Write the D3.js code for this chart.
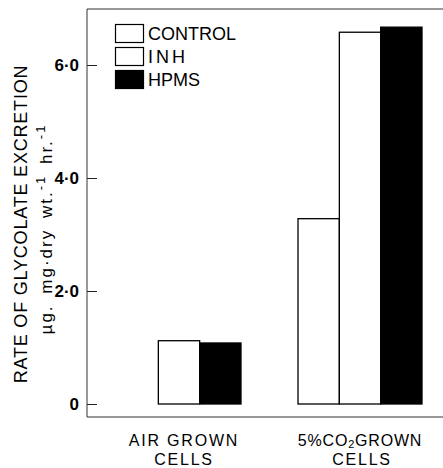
<!DOCTYPE html>
<html>
<head>
<meta charset="utf-8">
<script src="https://cdn.jsdelivr.net/npm/d3@7"></script>
<style>
  html, body { margin: 0; padding: 0; background: #fff; }
  svg { display: block; font-family: "Liberation Sans", Arial, sans-serif; }
</style>
</head>
<body>
<div id="chart"></div>
<script>
// ---------- Data ----------
const groups = ["AIR GROWN CELLS", "5%CO2 GROWN CELLS"];
const series = ["CONTROL", "INH", "HPMS"];
const controlVals = [0, 3.28];
const inhVals     = [1.12, 6.58];
const hpmsVals    = [1.08, 6.67];
const yTicks      = [0, 2, 4, 6];
const yTickLabels = ["0", "2·0", "4·0", "6·0"];

const fills = { CONTROL: "#fff", INH: "#fff", HPMS: "#000" };

const rows = groups.map((g, i) => ({
  group: g,
  values: [
    { key: "CONTROL", v: controlVals[i] },
    { key: "INH", v: inhVals[i] },
    { key: "HPMS", v: hpmsVals[i] }
  ]
}));

// ---------- Layout ----------
const W = 443, H = 468;
const frameL = 87, frameT = 9, frameB = 417;

const svg = d3.select("#chart").append("svg")
  .attr("width", W).attr("height", H);

const y = d3.scaleLinear().domain([0, 6]).range([404, 65]);

const x0 = d3.scaleBand()
  .domain(groups)
  .range([117, 422])
  .paddingInner(0.315)
  .paddingOuter(0);

const x1 = d3.scaleBand()
  .domain(series)
  .range([0, x0.bandwidth()])
  .padding(0);

// ---------- Frame ----------
svg.append("line")
  .attr("x1", frameL).attr("x2", W)
  .attr("y1", frameT).attr("y2", frameT)
  .attr("stroke", "#333").attr("stroke-width", 1);
svg.append("line")
  .attr("x1", frameL).attr("x2", W)
  .attr("y1", frameB).attr("y2", frameB)
  .attr("stroke", "#333").attr("stroke-width", 1);

// ---------- Y axis (ticks inward) ----------
const yAxis = svg.append("g")
  .attr("transform", `translate(${frameL},0)`)
  .call(d3.axisLeft(y)
    .tickValues(yTicks)
    .tickFormat((d, i) => yTickLabels[i])
    .tickSizeInner(-10)
    .tickSizeOuter(0)
    .tickPadding(8));
yAxis.select(".domain").remove();
yAxis.append("line")
  .attr("x1", 0).attr("x2", 0)
  .attr("y1", frameT).attr("y2", frameB)
  .attr("stroke", "#333");
yAxis.selectAll(".tick line").attr("stroke", "#222").attr("stroke-width", 1);
yAxis.selectAll(".tick text")
  .attr("fill", "#000")
  .style("font-size", "17px")
  .style("font-weight", "bold")
  .style("font-family", "'Liberation Sans', Arial, sans-serif");

// ---------- Bars ----------
const gBars = svg.append("g");
gBars.selectAll("g.grp")
  .data(rows)
  .join("g")
  .attr("class", "grp")
  .attr("transform", d => `translate(${x0(d.group)},0)`)
  .selectAll("rect")
  .data(d => d.values)
  .join("rect")
  .attr("x", d => x1(d.key))
  .attr("y", d => y(d.v))
  .attr("width", x1.bandwidth())
  .attr("height", d => y(0) - y(d.v))
  .attr("fill", d => fills[d.key])
  .attr("stroke", "#000")
  .attr("stroke-width", 1.3);

// ---------- Legend ----------
const legend = svg.append("g").attr("transform", "translate(115,24)");
series.forEach((s, i) => {
  const row = legend.append("g").attr("transform", `translate(0,${i * 23})`);
  row.append("rect")
    .attr("x", 0.5).attr("y", 0.5)
    .attr("width", 28).attr("height", 18)
    .attr("fill", fills[s])
    .attr("stroke", "#000")
    .attr("stroke-width", 1.2);
  row.append("text")
    .attr("x", 33).attr("y", 16)
    .style("font-size", "18px")
    .style("letter-spacing", s === "INH" ? "3px" : "0px")
    .text(s);
});

// ---------- X labels ----------
const xl = svg.append("g");
const cx0 = x0(groups[0]) + x0.bandwidth() / 2;
const cx1 = x0(groups[1]) + x0.bandwidth() / 2;
const xFont = "16px";

xl.append("text")
  .attr("x", cx0 + 5).attr("y", 446)
  .attr("text-anchor", "middle")
  .style("font-size", xFont).style("letter-spacing", "1.8px")
  .text("AIR GROWN");
xl.append("text")
  .attr("x", cx0 + 5).attr("y", 465)
  .attr("text-anchor", "middle")
  .style("font-size", xFont).style("letter-spacing", "1.8px")
  .text("CELLS");

const t2 = xl.append("text")
  .attr("x", cx1).attr("y", 446)
  .attr("text-anchor", "middle")
  .style("font-size", xFont).style("letter-spacing", "0.8px");
t2.append("tspan").text("5%CO");
t2.append("tspan").attr("dy", 2).style("font-size", "11px").text("2");
t2.append("tspan").attr("dy", -2).text("GROWN");
xl.append("text")
  .attr("x", cx1 + 2).attr("y", 465)
  .attr("text-anchor", "middle")
  .style("font-size", xFont).style("letter-spacing", "1.8px")
  .text("CELLS");

// ---------- Y label ----------
const yl = svg.append("g").attr("transform", "translate(0,224) rotate(-90)");
yl.append("text")
  .attr("x", 0).attr("y", 27)
  .attr("text-anchor", "middle")
  .style("font-size", "18px").style("letter-spacing", "0.8px")
  .text("RATE OF GLYCOLATE EXCRETION");
const sub = yl.append("g").attr("transform", "translate(-5,0)");
const subT = sub.append("text")
  .attr("x", 0).attr("y", 52)
  .attr("text-anchor", "middle")
  .style("font-size", "17px")
  .style("letter-spacing", "2px")
  .style("word-spacing", "4px");
subT.append("tspan").text("µg. mg·dry wt.");
subT.append("tspan").attr("dy", -7).style("font-size", "13px").text("-1");
subT.append("tspan").attr("dy", 7).text(" hr.");
subT.append("tspan").attr("dy", -7).style("font-size", "13px").text("-1");
</script>
</body>
</html>
